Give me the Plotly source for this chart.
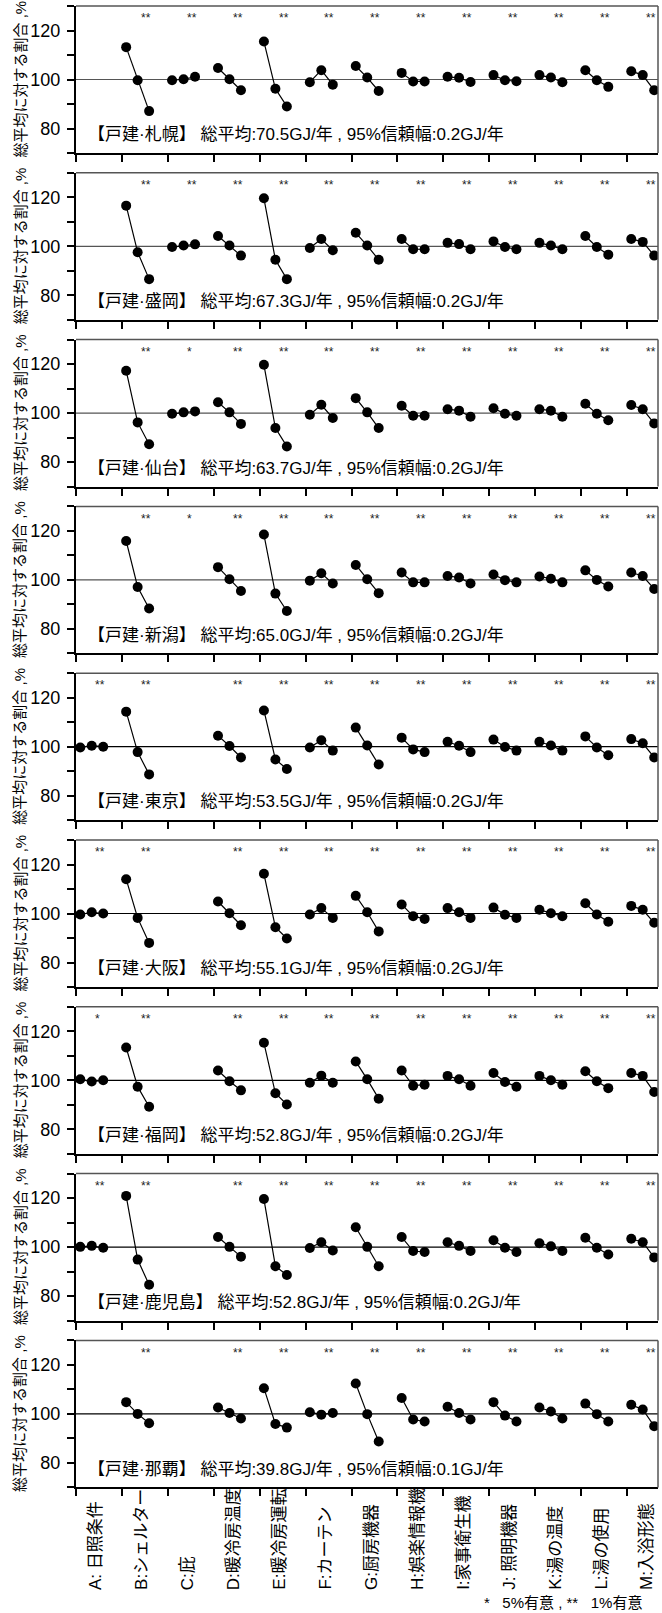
import plotly.graph_objects as go

# Category labels (x axis, bottom panel)
categories = ["A: 日照条件", "B:シェルター", "C:庇", "D:暖冷房温度", "E:暖冷房運転",
              "F:カーテン", "G:厨房機器", "H:娯楽情報機", "I:家事衛生機", "J: 照明機器",
              "K:湯の温度", "L:湯の使用", "M:入浴形態"]

cities = ["札幌", "盛岡", "仙台", "新潟", "東京", "大阪", "福岡", "鹿児島", "那覇"]
mean_gj = [70.5, 67.3, 63.7, 65.0, 53.5, 55.1, 52.8, 52.8, 39.8]
ci_gj = [0.2, 0.2, 0.2, 0.2, 0.2, 0.2, 0.2, 0.2, 0.1]

# Ratio to the overall mean (%) for the three levels of each factor; None = not in model
sapporo = [None, (113.2, 99.7, 87.1), (99.7, 100.1, 101.1), (104.7, 100.1, 95.6),
           (115.5, 96.2, 89.0), (98.9, 103.8, 97.9), (105.5, 100.8, 95.3), (102.7, 99.2, 99.2),
           (101.1, 100.7, 99.0), (101.8, 99.7, 99.3), (101.8, 100.8, 98.9), (103.8, 99.7, 97.0),
           (103.4, 101.8, 95.6)]
morioka = [None, (116.6, 97.6, 86.6), (99.7, 100.3, 100.8), (104.2, 100.3, 96.2),
           (119.6, 94.5, 86.6), (99.3, 103.0, 98.4), (105.5, 100.3, 94.5), (103.0, 98.8, 98.8),
           (101.4, 100.9, 98.8), (102.0, 99.7, 98.8), (101.4, 100.3, 98.8), (104.2, 99.7, 96.6),
           (103.0, 101.8, 96.2)]
sendai = [None, (117.3, 96.2, 87.3), (99.7, 100.3, 100.7), (104.4, 100.3, 95.6),
          (119.7, 93.9, 86.4), (99.3, 103.4, 98.0), (106.1, 100.3, 93.9), (103.0, 98.9, 98.9),
          (101.6, 101.0, 98.5), (102.0, 99.7, 98.9), (101.6, 101.0, 98.5), (103.8, 99.7, 97.1),
          (103.3, 101.6, 95.8)]
niigata = [None, (115.9, 97.1, 88.3), None, (105.2, 100.3, 95.5),
           (118.5, 94.4, 87.3), (99.7, 102.7, 98.5), (106.1, 100.3, 94.6), (103.0, 99.0, 99.0),
           (101.6, 101.0, 98.5), (102.2, 99.9, 99.0), (101.4, 100.5, 99.0), (103.9, 100.0, 97.3),
           (103.0, 101.6, 96.3)]
tokyo = [(99.7, 100.4, 100.0), (114.3, 97.8, 88.7), None, (104.5, 100.3, 95.6),
         (114.8, 94.8, 90.9), (99.7, 102.6, 98.4), (107.8, 100.5, 92.7), (103.7, 98.9, 97.8),
         (102.0, 100.4, 97.8), (102.9, 99.9, 98.4), (102.0, 100.5, 98.4), (104.2, 99.7, 96.5),
         (103.1, 101.4, 95.6)]
osaka = [(99.6, 100.5, 100.0), (114.0, 98.2, 88.0), None, (104.9, 100.1, 95.2),
         (116.2, 94.4, 89.8), (99.6, 102.2, 98.2), (107.2, 100.5, 92.7), (103.7, 98.9, 97.8),
         (102.2, 100.5, 98.2), (102.4, 99.5, 98.2), (101.5, 100.1, 98.9), (104.2, 99.6, 96.6),
         (103.1, 101.5, 96.2)]
fukuoka = [(100.4, 99.5, 100.0), (113.4, 97.4, 89.2), None, (104.0, 99.6, 95.9),
           (115.3, 94.7, 90.1), (99.0, 101.9, 99.0), (107.7, 100.4, 92.5), (104.0, 97.8, 98.2),
           (101.8, 100.4, 97.8), (103.0, 99.3, 97.4), (101.8, 100.0, 98.2), (103.7, 99.6, 96.8),
           (103.0, 101.8, 95.2)]
kagoshima = [(100.1, 100.5, 99.7), (120.9, 94.9, 84.6), None, (104.1, 100.1, 96.1),
             (119.6, 92.2, 88.6), (99.6, 102.0, 98.6), (108.1, 100.1, 92.2), (104.1, 98.4, 98.0),
             (102.0, 100.5, 98.4), (102.8, 99.7, 98.0), (101.6, 100.3, 98.4), (103.8, 99.7, 97.0),
             (103.4, 102.0, 95.8)]
naha = [None, (104.8, 100.0, 96.2), None, (102.6, 100.4, 98.1),
        (110.5, 95.9, 94.4), (100.7, 99.7, 100.4), (112.4, 99.9, 88.7), (106.5, 97.7, 96.9),
        (102.9, 100.4, 97.7), (104.8, 99.3, 96.9), (102.6, 101.0, 98.1), (104.2, 99.9, 96.9),
        (103.7, 101.8, 95.0)]

# Significance marks per factor
S2 = "**"
stars_sapporo = ["", S2, S2, S2, S2, S2, S2, S2, S2, S2, S2, S2, S2]
stars_morioka = ["", S2, S2, S2, S2, S2, S2, S2, S2, S2, S2, S2, S2]
stars_sendai = ["", S2, "*", S2, S2, S2, S2, S2, S2, S2, S2, S2, S2]
stars_niigata = ["", S2, "*", S2, S2, S2, S2, S2, S2, S2, S2, S2, S2]
stars_tokyo = [S2, S2, "", S2, S2, S2, S2, S2, S2, S2, S2, S2, S2]
stars_osaka = [S2, S2, "", S2, S2, S2, S2, S2, S2, S2, S2, S2, S2]
stars_fukuoka = ["*", S2, "", S2, S2, S2, S2, S2, S2, S2, S2, S2, S2]
stars_kagoshima = [S2, S2, "", S2, S2, S2, S2, S2, S2, S2, S2, S2, S2]
stars_naha = ["", S2, "", S2, S2, S2, S2, S2, S2, S2, S2, S2, S2]

panel_values = [sapporo, morioka, sendai, niigata, tokyo, osaka, fukuoka, kagoshima, naha]
panel_stars = [stars_sapporo, stars_morioka, stars_sendai, stars_niigata, stars_tokyo,
               stars_osaka, stars_fukuoka, stars_kagoshima, stars_naha]

W, H = 662, 1613
FONT = "Liberation Sans, Arial, Noto Sans CJK JP, sans-serif"
PLOT_L, PLOT_R = 76, 658
TOP0, PANEL_H, STEP = 6, 147, 166.8
X_MAX = 50.7
SLOT = 4          # x units per factor
OFFS = [0.37, 1.37, 2.37]

fig = go.Figure()
layout = dict(width=W, height=H, margin=dict(l=0, r=0, t=0, b=0),
              paper_bgcolor="white", plot_bgcolor="white", showlegend=False,
              font=dict(family=FONT, color="black"))
shapes, annotations = [], []
xdom = [PLOT_L / W, PLOT_R / W]

for k, (vals, stars) in enumerate(zip(panel_values, panel_stars)):
    sfx = "" if k == 0 else str(k + 1)
    top = TOP0 + STEP * k
    bot = top + PANEL_H
    ydom = [1 - bot / H, 1 - top / H]

    xs, ys = [], []
    for i, v in enumerate(vals):
        if v is None:
            continue
        xs += [SLOT * i + o for o in OFFS] + [None]
        ys += list(v) + [None]
    fig.add_trace(go.Scatter(x=xs, y=ys, xaxis="x" + sfx, yaxis="y" + sfx,
                             mode="lines+markers", connectgaps=False,
                             line=dict(color="black", width=1.2),
                             marker=dict(color="black", size=10)))

    layout["xaxis" + sfx] = dict(domain=xdom, range=[0, X_MAX], anchor="y" + sfx,
                                 tickvals=[SLOT * i for i in range(len(categories))],
                                 ticks="outside", ticklen=7, tickwidth=1.5, tickcolor="black",
                                 showticklabels=False, showgrid=False, zeroline=False,
                                 showline=True, linecolor="black", linewidth=2)
    layout["yaxis" + sfx] = dict(domain=ydom, range=[70, 130], anchor="x" + sfx,
                                 tickvals=[70, 80, 90, 100, 110, 120, 130],
                                 ticktext=["", "80", "", "100", "", "120", ""],
                                 ticks="outside", ticklen=7, tickwidth=1.5, tickcolor="black",
                                 ticklabelstandoff=3,
                                 tickfont=dict(size=18, family=FONT, color="black"),
                                 showgrid=False, zeroline=False,
                                 showline=True, linecolor="black", linewidth=2)

    ref_color = "#555555" if k < 4 else "black"
    shapes.append(dict(type="line", xref="x" + sfx + " domain", yref="y" + sfx,
                       x0=0, x1=1, y0=100, y1=100, layer="below",
                       line=dict(color=ref_color, width=1.2)))
    shapes.append(dict(type="line", xref="x" + sfx + " domain", yref="y" + sfx + " domain",
                       x0=0, x1=1, y0=1, y1=1, line=dict(color="#555555", width=1.5)))
    shapes.append(dict(type="line", xref="x" + sfx + " domain", yref="y" + sfx + " domain",
                       x0=1, x1=1, y0=0, y1=1, line=dict(color="#555555", width=1.5)))

    for i, s in enumerate(stars):
        if s:
            annotations.append(dict(x=SLOT * i + 1.47, y=125, xref="x" + sfx, yref="y" + sfx,
                                    text=s, showarrow=False, xanchor="left", yanchor="middle",
                                    font=dict(size=12, color="#222222", family=FONT)))

    info = (f"【戸建·{cities[k]}】 総平均:{mean_gj[k]:.1f}GJ/年 , "
            f"95%信頼幅:{ci_gj[k]:.1f}GJ/年")
    annotations.append(dict(x=86 / W, y=77.5, xref="paper", yref="y" + sfx, text=info,
                            showarrow=False, xanchor="left", yanchor="middle",
                            font=dict(size=17, family=FONT, color="black")))

    annotations.append(dict(x=20 / W, y=1 - (top + bot) / 2 / H, xref="paper", yref="paper",
                            text="総平均に対する割合 ,%", textangle=-90, showarrow=False,
                            xanchor="center", yanchor="middle",
                            font=dict(size=15, family=FONT, color="black")))

# Factor names under the last panel
for i, c in enumerate(categories):
    annotations.append(dict(x=SLOT * i + 1.7, y=1 - 1592 / H, xref="x9", yref="paper",
                            text=c, textangle=-90, showarrow=False,
                            xanchor="center", yanchor="bottom",
                            font=dict(size=17, family=FONT, color="black")))

annotations.append(dict(x=644 / W, y=1 - 1602 / H, xref="paper", yref="paper",
                        text="*   5%有意 , **   1%有意", showarrow=False,
                        xanchor="right", yanchor="middle",
                        font=dict(size=15, family=FONT, color="black")))

layout["shapes"] = shapes
layout["annotations"] = annotations
fig.update_layout(**layout)
fig.write_html("out.html")
